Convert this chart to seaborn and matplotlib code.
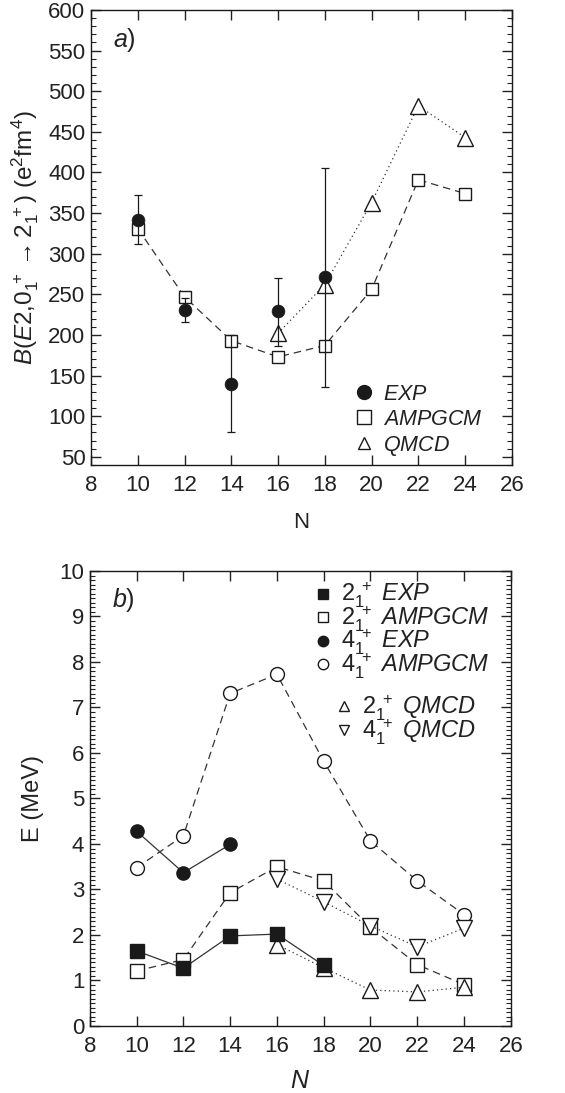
import matplotlib
matplotlib.use("Agg")
import matplotlib.pyplot as plt
from matplotlib.lines import Line2D
from matplotlib.ticker import MultipleLocator
import numpy as np
import pandas as pd
import seaborn as sns

sns.set_style("ticks")
plt.rcParams["font.family"] = ["Liberation Sans", "DejaVu Sans"]
plt.rcParams["mathtext.fontset"] = "custom"
plt.rcParams["mathtext.rm"] = "Liberation Sans"
plt.rcParams["mathtext.it"] = "Liberation Sans:italic"
plt.rcParams["mathtext.bf"] = "Liberation Sans:bold"
plt.rcParams["text.color"] = "#222222"
plt.rcParams["axes.labelcolor"] = "#222222"
plt.rcParams["xtick.color"] = "#222222"
plt.rcParams["ytick.color"] = "#222222"

# ---- panel a: B(E2) values ----
n_exp_a = [10, 12, 14, 16, 18]
be2_exp = [341, 231, 140, 229, 271]
be2_err_lo = [312, 216, 80, 187, 136]
be2_err_hi = [372, 245, 200, 270, 406]

n_amp_a = [10, 12, 14, 16, 18, 20, 22, 24]
be2_amp = [331, 247, 193, 173, 187, 256, 391, 374]

n_qmcd_a = [16, 18, 20, 22, 24]
be2_qmcd = [202, 262, 363, 482, 443]

# ---- panel b: excitation energies (MeV) ----
n_exp2 = [10, 12, 14, 16, 18]
e2_exp = [1.65, 1.27, 1.98, 2.02, 1.33]
n_exp4 = [10, 12, 14]
e4_exp = [4.28, 3.37, 3.99]

n_amp_b = [10, 12, 14, 16, 18, 20, 22, 24]
e2_amp = [1.21, 1.46, 2.93, 3.50, 3.19, 2.17, 1.35, 0.91]
e4_amp = [3.48, 4.18, 7.31, 7.73, 5.82, 4.07, 3.19, 2.45]

n_qmcd_b = [16, 18, 20, 22, 24]
e2_qmcd = [1.79, 1.28, 0.79, 0.75, 0.85]
e4_qmcd = [3.23, 2.73, 2.20, 1.74, 2.15]

x_ticks = [8, 10, 12, 14, 16, 18, 20, 22, 24, 26]

ink = "#1a1a1a"
line_col = "#333333"
fs = 16
lfs = 17

fig = plt.figure(figsize=(5.65, 10.93), dpi=100)
ax_a = fig.add_axes([0.161, 0.5746, 0.745, 0.4163])
ax_b = fig.add_axes([0.159, 0.0613, 0.745, 0.4163])

dash = (0, (6, 4))
dot = (0, (1, 2.5))


def series(ax, xs, ys, marker, face, ls, ms, lw=0.9):
    df = pd.DataFrame({"x": xs, "y": ys})
    sns.lineplot(data=df, x="x", y="y", ax=ax, color=line_col, linestyle=ls,
                 linewidth=lw, marker=marker, markersize=ms,
                 markerfacecolor=face, markeredgecolor=ink,
                 markeredgewidth=1.0, sort=False, legend=False)


# panel a
series(ax_a, n_amp_a, be2_amp, "s", "white", dash, 8)
series(ax_a, n_qmcd_a, be2_qmcd, "^", "white", dot, 11)
lo = np.array(be2_exp) - np.array(be2_err_lo)
hi = np.array(be2_err_hi) - np.array(be2_exp)
ax_a.errorbar(n_exp_a, be2_exp, yerr=[lo, hi], fmt="none", ecolor=ink,
              elinewidth=0.9, capsize=3, capthick=0.9, zorder=3)
sns.scatterplot(x=n_exp_a, y=be2_exp, ax=ax_a, color=ink, s=85,
                marker="o", edgecolor=ink, linewidth=0.5, zorder=4, legend=False)

ax_a.set_xlim(8, 26)
ax_a.set_ylim(40, 600)
ax_a.set_yticks(np.arange(50, 601, 50))
ax_a.yaxis.set_minor_locator(MultipleLocator(10))
ax_a.set_xticks(x_ticks)
ax_a.set_xlabel("N", fontsize=fs, labelpad=12)
ax_a.set_ylabel(r"$B(E2{,}0_1^{\ +}\rightarrow 2_1^{\ +})\ (\mathrm{e}^2\mathrm{fm}^4)$",
                fontsize=fs + 1.5, labelpad=5)
ax_a.text(0.052, 0.934, r"$a$)", transform=ax_a.transAxes, fontsize=fs + 2,
          va="center", ha="left")

leg_a = [
    Line2D([], [], ls="none", marker="o", ms=10, mfc=ink, mec=ink),
    Line2D([], [], ls="none", marker="s", ms=10, mfc="white", mec=ink),
    Line2D([], [], ls="none", marker="^", ms=8, mfc="white", mec=ink),
]
ax_a.legend(leg_a, ["$\\it{EXP}$", "$\\it{AMPGCM}$", "$\\it{QMCD}$"],
            loc="upper left", bbox_to_anchor=(0.63, 0.178), frameon=False,
            fontsize=15.5, handlelength=0.7, handletextpad=0.55,
            labelspacing=0.18, borderaxespad=0.0, borderpad=0.0)

# panel b
series(ax_b, n_amp_b, e4_amp, "o", "white", dash, 10)
series(ax_b, n_amp_b, e2_amp, "s", "white", dash, 10)
series(ax_b, n_qmcd_b, e2_qmcd, "^", "white", dot, 12)
series(ax_b, n_qmcd_b, e4_qmcd, "v", "white", dot, 12)
series(ax_b, n_exp4, e4_exp, "o", ink, "-", 9.5)
series(ax_b, n_exp2, e2_exp, "s", ink, "-", 10)

ax_b.set_xlim(8, 26)
ax_b.set_ylim(0, 10)
ax_b.set_yticks(np.arange(0, 11, 1))
ax_b.yaxis.set_minor_locator(MultipleLocator(0.1))
ax_b.set_xticks(x_ticks)
ax_b.set_xlabel(r"$N$", fontsize=fs + 2, labelpad=9)
ax_b.set_ylabel("E (MeV)", fontsize=fs + 1, labelpad=11)
ax_b.text(0.052, 0.936, r"$b$)", transform=ax_b.transAxes, fontsize=fs + 2,
          va="center", ha="left")

leg_b1 = [
    Line2D([], [], ls="none", marker="s", ms=7.5, mfc=ink, mec=ink),
    Line2D([], [], ls="none", marker="s", ms=7.5, mfc="white", mec=ink),
    Line2D([], [], ls="none", marker="o", ms=7.5, mfc=ink, mec=ink),
    Line2D([], [], ls="none", marker="o", ms=7.5, mfc="white", mec=ink),
]
lab_b1 = [r"$2_1^{\ +}\ \it{EXP}$", r"$2_1^{\ +}\ \it{AMPGCM}$",
          r"$4_1^{\ +}\ \it{EXP}$", r"$4_1^{\ +}\ \it{AMPGCM}$"]
l1 = ax_b.legend(leg_b1, lab_b1, loc="upper left", bbox_to_anchor=(0.535, 0.978),
                 frameon=False, fontsize=lfs, handlelength=0.7,
                 handletextpad=0.4, labelspacing=-0.25, borderaxespad=0.0,
                 borderpad=0.0)
ax_b.add_artist(l1)
leg_b2 = [
    Line2D([], [], ls="none", marker="^", ms=6.5, mfc="white", mec=ink),
    Line2D([], [], ls="none", marker="v", ms=6.5, mfc="white", mec=ink),
]
lab_b2 = [r"$2_1^{\ +}\ \it{QMCD}$", r"$4_1^{\ +}\ \it{QMCD}$"]
ax_b.legend(leg_b2, lab_b2, loc="upper left", bbox_to_anchor=(0.585, 0.73),
            frameon=False, fontsize=lfs, handlelength=0.7,
            handletextpad=0.4, labelspacing=-0.25, borderaxespad=0.0,
            borderpad=0.0)

for ax in (ax_a, ax_b):
    for sp in ax.spines.values():
        sp.set_visible(True)
        sp.set_linewidth(1.0)
        sp.set_color(ink)
    ax.tick_params(which="both", direction="in", top=True, right=True,
                   labelsize=fs)
    ax.tick_params(axis="y", pad=4)
    ax.tick_params(axis="x", pad=7)
    ax.tick_params(which="major", length=7, width=1.0)
    ax.tick_params(which="minor", length=3.5, width=0.8)
    ax.tick_params(axis="x", which="minor", top=False, bottom=False)

fig.savefig("out.png", dpi=100)
